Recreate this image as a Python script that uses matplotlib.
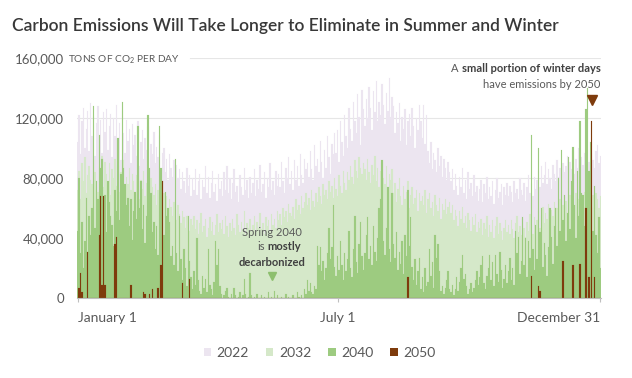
import numpy as np
import matplotlib.pyplot as plt
from matplotlib.patches import Patch

plt.rcParams['font.family'] = ['Lato', 'DejaVu Sans']
plt.rcParams['mathtext.fontset'] = 'custom'
plt.rcParams['mathtext.rm'] = 'Lato'
plt.rcParams['mathtext.default'] = 'regular'

TITLE = "Carbon Emissions Will Take Longer to Eliminate in Summer and Winter"
SERIES = ["2022", "2032", "2040", "2050"]
COLORS = ["#ECE5F0", "#D5E8C9", "#9DCB80", "#7E3B0C"]
Y_TICKS = [0, 40000, 80000, 120000, 160000]
X_TICKS = [0, 181, 364]
X_LABELS = ["January 1", "July 1", "December 31"]

# daily emissions, thousand tons of CO2, Jan 1 .. Dec 31
e2022 = [
    104, 122, 96, 118, 127, 100, 113, 125, 98, 130, 108, 121, 95, 117, 128, 103, 119, 97, 124, 111,
    126, 99, 115, 123, 94, 120, 108, 129, 101, 117, 92, 125, 110, 97, 119, 105, 113, 90, 116, 102,
    109, 95, 118, 88, 104, 112, 93, 107, 99, 114, 86, 103, 96, 111, 90, 101, 94, 108, 85, 97,
    100, 84, 93, 79, 96, 87, 81, 92, 76, 89, 80, 86, 73, 84, 78, 70, 87, 75, 82, 68,
    80, 72, 86, 69, 78, 83, 66, 79, 74, 88, 70, 81, 67, 77, 85, 71, 76, 65, 83, 73,
    78, 68, 84, 72, 88, 70, 80, 66, 77, 86, 71, 75, 64, 82, 74, 69, 87, 72, 79, 67,
    81, 70, 77, 86, 68, 79, 73, 89, 71, 76, 84, 67, 80, 74, 90, 72, 78, 69, 85, 75,
    83, 74, 91, 78, 70, 87, 80, 94, 76, 85, 72, 92, 79, 88, 75, 96, 82, 77, 93, 86,
    90, 81, 98, 86, 79, 102, 88, 93, 84, 105, 91, 80, 99, 87, 108, 94, 83, 103, 96, 110,
    97, 112, 91, 118, 104, 95, 122, 108, 100, 127, 113, 105, 131, 118, 110, 136, 121, 102, 139, 126,
    115, 133, 120, 141, 127, 112, 138, 124, 145, 118, 131, 122, 143, 129, 116, 137, 125, 147, 121, 134,
    128, 110, 124, 117, 130, 105, 121, 113, 126, 102, 118, 123, 108, 127, 115, 100, 120, 112, 129, 118,
    107, 129, 103, 122, 98, 90, 104, 86, 97, 92, 84, 100, 88, 95, 81, 93, 87, 79, 91, 84,
    78, 86, 72, 83, 75, 69, 81, 74, 87, 70, 79, 66, 84, 73, 77, 68, 82, 71, 75, 65,
    73, 79, 64, 76, 70, 81, 66, 74, 68, 78, 63, 72, 80, 67, 71, 76, 62, 74, 69, 77,
    68, 75, 71, 64, 78, 70, 73, 66, 80, 72, 69, 77, 65, 74, 82, 70, 76, 68, 81, 73,
    79, 85, 74, 88, 77, 82, 91, 76, 86, 80, 73, 89, 83, 78, 92, 81, 87, 76, 90, 84,
    88, 95, 80, 91, 86, 98, 83, 93, 87, 100, 82, 94, 89, 97, 85, 99, 91, 84, 96, 92,
    87, 98, 102, 90, 95,
]

e2032 = [
    72, 85, 66, 90, 78, 94, 70, 82, 88, 79, 76, 92, 84, 74, 71, 87, 80, 95, 74, 91,
    83, 77, 90, 69, 86, 80, 93, 75, 88, 71, 84, 79, 92, 68, 81, 76, 87, 72, 83, 78,
    70, 82, 75, 66, 79, 73, 85, 68, 77, 71, 64, 80, 74, 69, 76, 62, 72, 67, 75, 65,
    70, 63, 68, 58, 66, 61, 55, 64, 59, 52, 62, 56, 50, 58, 54, 47, 55, 51, 45, 53,
    49, 55, 46, 52, 43, 50, 57, 44, 48, 53, 41, 47, 54, 45, 51, 42, 49, 56, 44, 50,
    46, 52, 43, 55, 48, 41, 50, 45, 53, 47, 42, 56, 49, 44, 51, 46, 58, 43, 50, 47,
    53, 45, 49, 55, 44, 51, 47, 57, 46, 50, 43, 54, 48, 52, 45, 56, 49, 53, 47, 58,
    52, 56, 49, 60, 54, 58, 51, 63, 57, 55, 61, 53, 66, 59, 62, 56, 68, 60, 64, 70,
    62, 67, 59, 72, 65, 61, 70, 64, 74, 68, 63, 76, 69, 72, 66, 78, 71, 75, 67, 80,
    73, 68, 82, 75, 70, 85, 77, 72, 84, 79, 88, 81, 76, 92, 85, 80, 94, 87, 83, 90,
    86, 79, 93, 84, 77, 89, 82, 95, 78, 87, 74, 85, 91, 80, 76, 88, 72, 83, 79, 86,
    70, 77, 64, 73, 80, 68, 62, 75, 66, 71, 78, 60, 69, 74, 63, 67, 72, 58, 70, 65,
    68, 62, 72, 57, 66, 70, 60, 64, 55, 69, 62, 58, 67, 53, 63, 59, 66, 56, 61, 64,
    57, 62, 52, 59, 55, 48, 58, 53, 61, 50, 55, 47, 57, 52, 45, 54, 49, 56, 44, 51,
    47, 53, 42, 50, 46, 55, 41, 49, 44, 52, 40, 48, 54, 43, 50, 45, 39, 47, 52, 44,
    49, 43, 52, 46, 40, 50, 55, 44, 48, 42, 53, 47, 41, 51, 45, 56, 49, 43, 54, 48,
    52, 58, 47, 55, 61, 50, 57, 53, 63, 49, 59, 55, 64, 52, 60, 57, 66, 54, 62, 58,
    65, 56, 62, 69, 58, 64, 60, 70, 57, 66, 63, 68, 59, 71, 65, 61, 67, 72, 62, 69,
    64, 70, 66, 60, 68,
]

e2040 = [
    45, 80, 30, 51, 20, 38, 67, 31, 55, 42, 60, 128, 47, 78, 66, 109, 87, 93, 58, 69,
    44, 78, 64, 55, 49, 35, 72, 58, 107, 52, 83, 131, 87, 76, 62, 67, 48, 66, 39, 58,
    71, 53, 115, 60, 78, 46, 62, 37, 55, 122, 87, 70, 44, 51, 33, 48, 29, 115, 87, 78,
    42, 71, 55, 60, 51, 28, 35, 22, 93, 30, 18, 55, 26, 12, 33, 20, 8, 55, 25, 14,
    6, 18, 9, 40, 12, 5, 3, 15, 7, 13, 4, 33, 9, 6, 2, 11, 38, 22, 33, 8,
    3, 0, 2, 5, 7, 1, 0, 3, 0, 7, 2, 0, 1, 4, 0, 2, 13, 3, 0, 1,
    17, 2, 0, 1, 0, 3, 0, 0, 2, 0, 1, 0, 0, 4, 0, 1, 0, 5, 0, 2,
    0, 0, 1, 0, 0, 3, 0, 1, 0, 0, 2, 0, 0, 4, 1, 0, 2, 0, 6, 3,
    12, 5, 10, 4, 3, 8, 6, 35, 22, 34, 18, 25, 12, 20, 30, 47, 26, 34, 62, 21,
    15, 28, 19, 38, 22, 12, 30, 18, 26, 45, 20, 14, 33, 55, 24, 17, 36, 51, 28, 19,
    30, 42, 54, 26, 35, 22, 48, 31, 25, 40, 60, 66, 92, 38, 29, 47, 74, 33, 24, 70,
    36, 27, 44, 19, 31, 23, 38, 16, 42, 28, 72, 35, 54, 21, 12, 26, 9, 18, 27, 6,
    14, 4, 20, 8, 11, 33, 15, 24, 7, 42, 27, 36, 18, 5, 8, 3, 7, 12, 18, 6,
    4, 9, 2, 6, 14, 5, 11, 20, 29, 13, 16, 8, 3, 6, 10, 4, 7, 12, 18, 9,
    14, 22, 28, 10, 6, 15, 20, 29, 12, 24, 8, 29, 16, 11, 31, 19, 7, 13, 22, 10,
    18, 27, 12, 20, 9, 45, 30, 41, 16, 25, 54, 22, 40, 14, 38, 27, 109, 33, 19, 49,
    26, 100, 44, 60, 21, 37, 29, 15, 34, 60, 41, 23, 48, 60, 35, 80, 45, 99, 52, 69,
    38, 57, 94, 46, 78, 101, 62, 40, 85, 55, 118, 70, 69, 48, 126, 140, 85, 104, 60, 45,
    75, 42, 30, 54, 20,
]

# 2050 is zero on most days: only the days with emissions are listed
days_2050 = [1, 2, 3, 7, 15, 16, 17, 18, 19, 26, 27, 37, 46, 47, 50, 52, 56, 58, 59,
             73, 78, 230, 316, 321, 322, 338, 345, 350, 354, 356, 358, 360]
vals_2050 = [7, 17, 4, 31, 42, 68, 9, 68, 9, 36, 41, 9, 4, 3, 3, 6, 7, 22, 78,
             10, 13, 14, 15, 8, 5, 25, 22, 23, 60, 14, 118, 14]

GRAY = "#595959"


def frac(x, y):
    '''pixel position on the 632x378 canvas -> axes fraction'''
    return (x - 77) / 524, (298 - y) / 240


def main():
    e2050 = np.zeros(len(e2022))
    e2050[days_2050] = vals_2050
    series = [np.array(e2022), np.array(e2032), np.array(e2040), e2050]
    for s in series:
        assert len(s) == 365, len(s)

    fig = plt.figure(figsize=(6.32, 3.78), dpi=100)
    ax = fig.add_axes([77 / 632, 80 / 378, 524 / 632, 240 / 378])

    days = np.arange(365)
    for vals, col in zip(series, COLORS):
        ax.bar(days, vals * 1000, width=1.0, color=col, edgecolor=col,
               linewidth=0.1, zorder=2)

    for v in Y_TICKS[1:-1]:
        ax.axhline(v, color="#E6E6E6", lw=0.8, zorder=1)
    ax.axhline(Y_TICKS[-1], xmin=0.216, color="#E6E6E6", lw=0.8, zorder=1)

    ax.set_xlim(-0.5, 364.5)
    ax.set_ylim(0, 160000)
    ax.set_yticks(Y_TICKS)
    ax.set_yticklabels([f"{v:,}" for v in Y_TICKS])
    ax.tick_params(axis="y", length=0, pad=9.5, labelsize=9.5, labelcolor=GRAY)
    ax.set_xticks(X_TICKS)
    ax.set_xticklabels(X_LABELS)
    for lab, ha in zip(ax.get_xticklabels(), ["left", "center", "right"]):
        lab.set_ha(ha)
    ax.tick_params(axis="x", length=3, color="#BFBFBF", pad=7, labelsize=10, labelcolor=GRAY)
    for side in ["top", "right", "left"]:
        ax.spines[side].set_visible(False)
    ax.spines["bottom"].set_color("#BFBFBF")
    ax.spines["bottom"].set_zorder(3)

    ax.text(*frac(68, 58), "TONS OF CO$_2$ PER DAY", transform=ax.transAxes,
            fontsize=7.3, color=GRAY, va="center_baseline", ha="left")

    # title
    fig.text(12 / 632, 1 - 26 / 378, TITLE, fontsize=12.5, weight="semibold",
             color="#383838", va="center", ha="left")

    # winter note
    bold = ax.text(*frac(600.5, 69), "small portion of winter days", transform=ax.transAxes,
                   fontsize=8, weight="bold", color="#404040", ha="right", va="center")
    ax.annotate("A", xy=(0, 0), xycoords=bold, xytext=(-2.4, 0), textcoords="offset points",
                fontsize=8, color=GRAY, ha="right", va="bottom")
    ax.text(*frac(600.5, 84), "have emissions by 2050", transform=ax.transAxes,
            fontsize=8, color=GRAY, ha="right", va="center")
    peak = int(np.argmax(e2050))
    ax.plot(peak, e2050[peak] * 1000 + 14000, marker="v", ms=6.5, color=COLORS[3],
            clip_on=False, zorder=5)

    # spring note
    ax.text(*frac(272, 232), "Spring 2040", transform=ax.transAxes, fontsize=8,
            color=GRAY, ha="center", va="center", zorder=6)
    ax.text(*frac(264.5, 247), "is", transform=ax.transAxes, fontsize=8,
            color=GRAY, ha="right", va="center", zorder=6)
    ax.text(*frac(267.5, 247), "mostly", transform=ax.transAxes, fontsize=8,
            weight="bold", color="#404040", ha="left", va="center", zorder=6)
    ax.text(*frac(272, 262), "decarbonized", transform=ax.transAxes, fontsize=8,
            weight="bold", color="#404040", ha="center", va="center", zorder=6)
    ax.plot(*frac(272, 276), marker="v", ms=6, color="#8DBF6E",
            transform=ax.transAxes, zorder=6)

    handles = [Patch(facecolor=c, edgecolor="none") for c in COLORS]
    fig.legend(handles, SERIES, loc="center", bbox_to_anchor=(319.5 / 632, 1 - 353 / 378),
               ncol=4, frameon=False, fontsize=10, handlelength=0.55, handleheight=0.55,
               handletextpad=0.4, columnspacing=1.2, labelcolor=GRAY)

    fig.savefig("out.png", dpi=100)


if __name__ == "__main__":
    main()
